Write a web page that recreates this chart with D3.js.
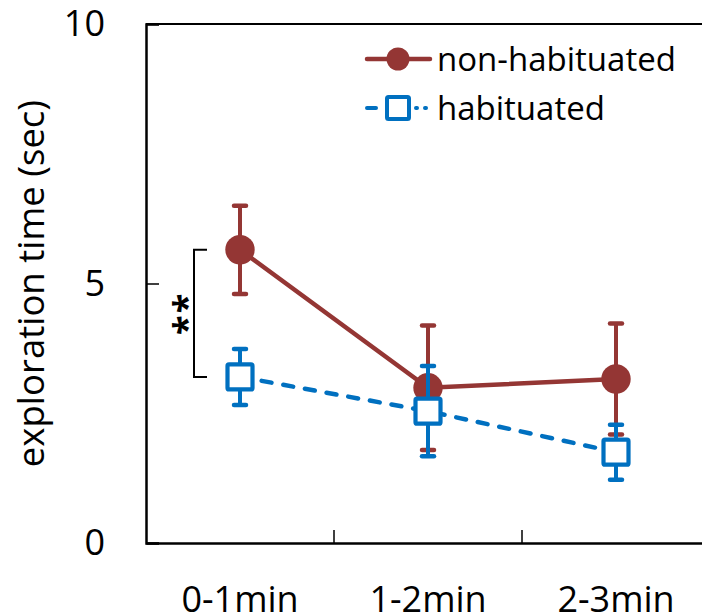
<!DOCTYPE html>
<html>
<head>
<meta charset="utf-8">
<script src="https://cdn.jsdelivr.net/npm/d3@7"></script>
<style>
  html, body { margin: 0; padding: 0; background: #fff; }
  svg { display: block; font-family: "Open Sans", "Noto Sans", sans-serif; }
</style>
</head>
<body>
<svg id="chart" width="702" height="616"></svg>
<script>
// ---- data ----
const categories = ["0-1min", "1-2min", "2-3min"];
const nonHabMean = [5.65, 2.99, 3.16];
const nonHabErr  = [0.85, 1.20, 1.07];
const habMean    = [3.20, 2.54, 1.75];
const habErr     = [0.54, 0.87, 0.53];
const yTicks     = [0, 5, 10];
const seriesNames = ["non-habituated", "habituated"];
const sigLabel = "**";

const RED = "#943634", BLUE = "#0070C0";

const svg = d3.select("#chart");
const plotLeft = 146, plotTop = 24, plotW = 564, plotH = 519;

const x = d3.scaleBand().domain(categories).range([plotLeft, plotLeft + plotW]).padding(0);
const y = d3.scaleLinear().domain([0, 10]).range([plotTop + plotH, plotTop]);
const cx = c => x(c) + x.bandwidth() / 2;

// plot border (top)
svg.append("line")
  .attr("x1", plotLeft).attr("x2", plotLeft + plotW)
  .attr("y1", y(10)).attr("y2", y(10))
  .attr("stroke", "#000").attr("stroke-width", 2);

// y axis
const yAxis = svg.append("g")
  .attr("transform", `translate(${plotLeft},0)`)
  .call(d3.axisLeft(y).tickValues(yTicks).tickSize(-13).tickPadding(41).tickFormat(d3.format("d")));
yAxis.select(".domain").attr("stroke", "#000").attr("stroke-width", 2.5);
yAxis.selectAll(".tick line").attr("stroke", "#000").attr("stroke-width", 1.5);
yAxis.selectAll("text").attr("font-size", 36).attr("fill", "#000")
  .attr("font-family", "'Open Sans', sans-serif");

// x axis
const xAxis = svg.append("g")
  .attr("transform", `translate(0,${y(0)})`)
  .call(d3.axisBottom(x).tickSize(0).tickPadding(43));
xAxis.select(".domain").attr("stroke", "#000").attr("stroke-width", 2.5);
xAxis.selectAll("text").attr("font-size", 36).attr("fill", "#000")
  .attr("font-family", "'Open Sans', sans-serif");
// inner boundary ticks
svg.append("g").selectAll("line")
  .data(categories.slice(1))
  .join("line")
  .attr("x1", d => x(d)).attr("x2", d => x(d))
  .attr("y1", y(0)).attr("y2", y(0) - 13)
  .attr("stroke", "#000").attr("stroke-width", 1.5);

// y axis title
svg.append("text")
  .attr("transform", `translate(44,${(y(0) + y(10)) / 2}) rotate(-90)`)
  .attr("text-anchor", "middle")
  .attr("font-size", 36.5)
  .attr("fill", "#000")
  .text("exploration time (sec)");

// significance bracket
const bx = 194, bx2 = 207;
svg.append("path")
  .attr("d", `M${bx2},${y(nonHabMean[0])}H${bx}V${y(habMean[0])}H${bx2}`)
  .attr("fill", "none").attr("stroke", "#000").attr("stroke-width", 2);
svg.append("text")
  .attr("transform", `translate(199,${(y(nonHabMean[0]) + y(habMean[0])) / 2}) rotate(-90)`)
  .attr("text-anchor", "middle")
  .attr("font-size", 36).attr("font-weight", "bold").attr("fill", "#000")
  .attr("letter-spacing", 2)
  .text(sigLabel);

// series
function drawSeries(mean, err, color, dash, marker) {
  const g = svg.append("g");
  const line = d3.line().x((d, i) => cx(categories[i])).y(d => y(d));
  g.append("path").datum(mean)
    .attr("d", line)
    .attr("fill", "none").attr("stroke", color).attr("stroke-width", 4.5)
    .attr("stroke-linecap", "round")
    .attr("stroke-dasharray", dash || null);
  // error bars
  const eb = g.selectAll("g.eb").data(mean).join("g").attr("class", "eb");
  eb.append("line")
    .attr("x1", (d, i) => cx(categories[i])).attr("x2", (d, i) => cx(categories[i]))
    .attr("y1", (d, i) => y(d + err[i])).attr("y2", (d, i) => y(d - err[i]))
    .attr("stroke", color).attr("stroke-width", 4);
  [1, -1].forEach(s => {
    eb.append("line")
      .attr("x1", (d, i) => cx(categories[i]) - 6).attr("x2", (d, i) => cx(categories[i]) + 6)
      .attr("y1", (d, i) => y(d + s * err[i])).attr("y2", (d, i) => y(d + s * err[i]))
      .attr("stroke", color).attr("stroke-width", 4.5).attr("stroke-linecap", "round");
  });
  // markers
  if (marker === "circle") {
    g.selectAll("circle.m").data(mean).join("circle").attr("class", "m")
      .attr("cx", (d, i) => cx(categories[i])).attr("cy", d => y(d))
      .attr("r", 14.7).attr("fill", color);
  } else {
    g.selectAll("rect.m").data(mean).join("rect").attr("class", "m")
      .attr("x", (d, i) => cx(categories[i]) - 12.5).attr("y", d => y(d) - 12.5)
      .attr("width", 25).attr("height", 25).attr("rx", 1.5)
      .attr("fill", "#fff").attr("stroke", color).attr("stroke-width", 4.2);
  }
}
drawSeries(nonHabMean, nonHabErr, RED, null, "circle");
drawSeries(habMean, habErr, BLUE, "10,12", "square");

// legend
const lg = svg.append("g");
const lx1 = 367, lx2 = 430, lmx = 398, tx = 437;
const ly = [59, 108];
lg.append("line").attr("x1", lx1).attr("x2", lx2).attr("y1", ly[0]).attr("y2", ly[0])
  .attr("stroke", RED).attr("stroke-width", 4.5).attr("stroke-linecap", "round");
lg.append("circle").attr("cx", lmx).attr("cy", ly[0]).attr("r", 11.5).attr("fill", RED);
lg.append("line").attr("x1", lx1).attr("x2", lx2).attr("y1", ly[1]).attr("y2", ly[1])
  .attr("stroke", BLUE).attr("stroke-width", 4).attr("stroke-linecap", "round")
  .attr("stroke-dasharray", "9,40,1,8,1");
lg.append("rect").attr("x", lmx - 11).attr("y", ly[1] - 11).attr("width", 22).attr("height", 22)
  .attr("rx", 1.5)
  .attr("fill", "#fff").attr("stroke", BLUE).attr("stroke-width", 4);
lg.selectAll("text.lt").data(seriesNames).join("text").attr("class", "lt")
  .attr("x", tx).attr("y", (d, i) => ly[i])
  .attr("dy", "0.36em")
  .attr("font-size", 33).attr("fill", "#000")
  .text(d => d);
</script>
</body>
</html>
